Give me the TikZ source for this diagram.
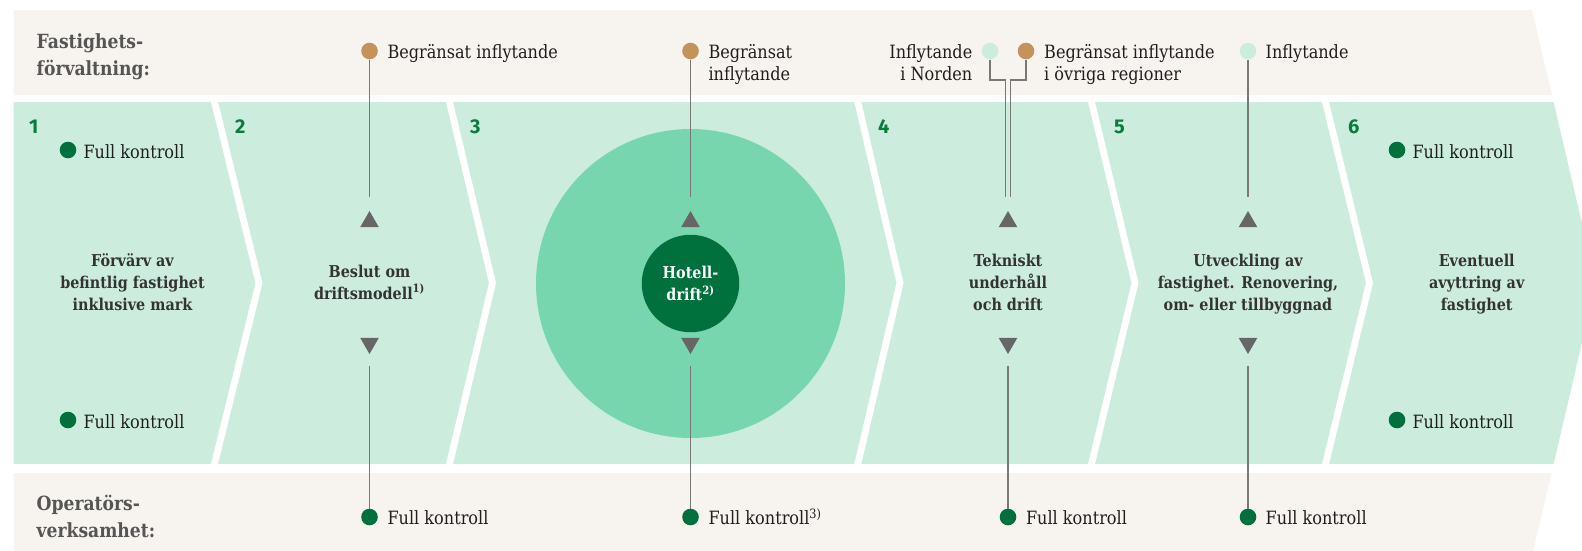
\documentclass[tikz,border=0pt]{standalone}
\usepackage{fontspec}
\setmainfont{DejaVu Serif}[FakeStretch=0.88, BoldFont={DejaVu Serif Bold}]
\newfontfamily\numfont{Fira Sans}
\usetikzlibrary{shapes.geometric, positioning, calc}
\definecolor{bandbeige}{RGB}{247,243,239}
\definecolor{bandgreen}{RGB}{204,237,222}
\definecolor{hubgreen}{RGB}{120,214,175}
\definecolor{darkgreen}{RGB}{0,112,60}
\definecolor{numgreen}{RGB}{10,125,60}
\definecolor{ochre}{RGB}{196,147,92}
\definecolor{headgray}{RGB}{85,85,85}
\definecolor{textdark}{RGB}{51,51,51}
\definecolor{wiregray}{RGB}{120,120,120}
\definecolor{tipgray}{RGB}{102,102,102}

\begin{document}
\begin{tikzpicture}[
        x=1pt, y=-1pt,
        gapline/.style={draw=white, line width=6.8pt, line join=miter, shorten <=-3pt, shorten >=-3pt},
        bullet/.style={circle, inner sep=0pt, minimum size=16.6pt},
        ctrl/.style={bullet, fill=darkgreen},
        partial/.style={bullet, fill=ochre},
        infl/.style={bullet, fill=bandgreen},
        tipup/.style={regular polygon, regular polygon sides=3, fill=tipgray, inner sep=0pt, minimum size=21.6pt},
        tipdown/.style={tipup, shape border rotate=180},
        wire/.style={draw=wiregray, line width=1.2pt},
        lbl/.style={font=\fontsize{18.3}{22}\selectfont, text=black!88, inner sep=0pt},
        stage/.style={font=\bfseries\fontsize{16.3}{22}\selectfont, text=textdark, align=center, inner sep=0pt},
        bandhead/.style={font=\bfseries\fontsize{19.5}{27}\selectfont, text=headgray, align=left, inner sep=0pt, anchor=base west},
        num/.style={font=\numfont\bfseries\fontsize{20}{20}\selectfont, text=numgreen, inner sep=0pt, anchor=base west}
    ]
        \useasboundingbox (0,0) rectangle (1582,550);
        \clip (0,0) rectangle (1582,550);

        % Bands
        \fill[bandbeige] (13.5,10) -- (1532,10) -- (1552,95) -- (13.5,95) -- cycle;
        \fill[bandgreen] (13.5,102) -- (1553.6,102) -- (1596,283) -- (1553.6,464) -- (13.5,464) -- cycle;
        \fill[bandbeige] (13.5,473) -- (1551.5,473) -- (1532,556) -- (13.5,556) -- cycle;

        % Chevron gaps
        \foreach \xa/\xb in {214.5/259, 449.5/492.5, 857.8/900, 1091.5/1135, 1325.5/1369.5}
            \draw[gapline] (\xa,102) -- (\xb,283) -- (\xa,464);

        \node[circle, fill=hubgreen, minimum size=309pt, inner sep=0pt] (hub) at (690.5,283.5) {};

        % Band headings (base = last line)
        \node[bandhead] (fh) at (36.5,75) {Fastighets-\\förvaltning:};
        \node[bandhead] (oh) at (36.5,537) {Operatörs-\\verksamhet:};

        % Step numbers
        \node[num] (n1) at (29,133) {1};
        \node[num] (n2) at (235,133) {2};
        \node[num] (n3) at (470,133) {3};
        \node[num] (n4) at (878,133) {4};
        \node[num] (n5) at (1114,133) {5};
        \node[num] (n6) at (1348,133) {6};

        % Step 1 and 6
        \node[ctrl] (c1t) at (68,150) {};
        \node[lbl, anchor=base west] (c1tl) at (83.3,158) {Full kontroll};
        \node[ctrl] (c1b) at (68,420) {};
        \node[lbl, anchor=base west] (c1bl) at (83.3,428) {Full kontroll};
        \node[ctrl] (c6t) at (1397,150) {};
        \node[lbl, anchor=base west] (c6tl) at (1412.3,158) {Full kontroll};
        \node[ctrl] (c6b) at (1397,420) {};
        \node[lbl, anchor=base west] (c6bl) at (1412.3,428) {Full kontroll};

        % Step 2
        \node[partial] (ft2) at (369.5,51) {};
        \node[lbl, anchor=base west] (ft2l) at (387.3,58.5) {Begränsat inflytande};
        \node[tipup] (up2) at (369.5,221.8) {};
        \node[tipdown] (dn2) at (369.5,343.2) {};
        \node[ctrl] (op2) at (369.5,517) {};
        \node[lbl, anchor=base west] (op2l) at (387.3,524.5) {Full kontroll};
        \draw[wire, shorten >=14pt] (ft2) -- (up2);
        \draw[wire, shorten <=12pt] (dn2) -- (op2);

        % Step 3
        \node[partial] (ft3) at (690.5,51) {};
        \node[lbl, align=left, anchor=base west] (ft3l) at (708.3,80.5) {Begränsat\\inflytande};
        \node[tipup] (up3) at (690.5,221.8) {};
        \node[tipdown] (dn3) at (690.5,343.2) {};
        \node[ctrl] (op3) at (690.5,517) {};
        \node[lbl, anchor=base west] (op3l) at (708.3,524.5) {Full kontroll\textsuperscript{3)}};
        \draw[wire, shorten >=14pt] (ft3) -- (up3);
        \draw[wire, shorten <=12pt] (dn3) -- (op3);

        % Step 4
        \node[infl] (ft4a) at (990,51) {};
        \node[partial] (ft4b) at (1026,51) {};
        \node[lbl, align=right, anchor=base east] (ft4al) at (972.5,80.5) {Inflytande\\i Norden};
        \node[lbl, align=left, anchor=base west] (ft4bl) at (1044,80.5) {Begränsat inflytande\\i övriga regioner};
        \coordinate (k4a) at (1005.2,80);
        \coordinate (k4b) at (1010.8,80);
        \coordinate (e4a) at (1005.2,197);
        \coordinate (e4b) at (1010.8,197);
        \node[tipup] (up4) at (1008,221.8) {};
        \node[tipdown] (dn4) at (1008,343.2) {};
        \node[ctrl] (op4) at (1008,517) {};
        \node[lbl, anchor=base west] (op4l) at (1025.8,524.5) {Full kontroll};
        \draw[wire] (ft4a) |- (k4a) -- (e4a);
        \draw[wire] (ft4b) |- (k4b) -- (e4b);
        \draw[wire, shorten <=12pt] (dn4) -- (op4);

        % Step 5
        \node[infl] (ft5) at (1248,51) {};
        \node[lbl, anchor=base west] (ft5l) at (1265.5,58.5) {Inflytande};
        \node[tipup] (up5) at (1248,221.8) {};
        \node[tipdown] (dn5) at (1248,343.2) {};
        \node[ctrl] (op5) at (1248,517) {};
        \node[lbl, anchor=base west] (op5l) at (1265.5,524.5) {Full kontroll};
        \draw[wire, shorten >=14pt] (ft5) -- (up5);
        \draw[wire, shorten <=12pt] (dn5) -- (op5);

        % Step texts (base = last line)
        \node[stage, anchor=base] (s1) at (132.5,310) {Förvärv av\\befintlig fastighet\\inklusive mark};
        \node[stage, anchor=base] (s2) at (369.5,299) {Beslut om\\driftsmodell\textsuperscript{1)}};
        \node[stage, circle, fill=darkgreen, minimum size=97.5pt, text=white] (s3) at (690.5,283.5) {Hotell-\\drift\textsuperscript{2)}};
        \node[stage, anchor=base] (s4) at (1008,310) {Tekniskt\\underhåll\\och drift};
        \node[stage, anchor=base] (s5) at (1248,310) {Utveckling av\\fastighet. Renovering,\\om- eller tillbyggnad};
        \node[stage, anchor=base] (s6) at (1476.7,310) {Eventuell\\avyttring av\\fastighet};

    \end{tikzpicture}
\end{document}
